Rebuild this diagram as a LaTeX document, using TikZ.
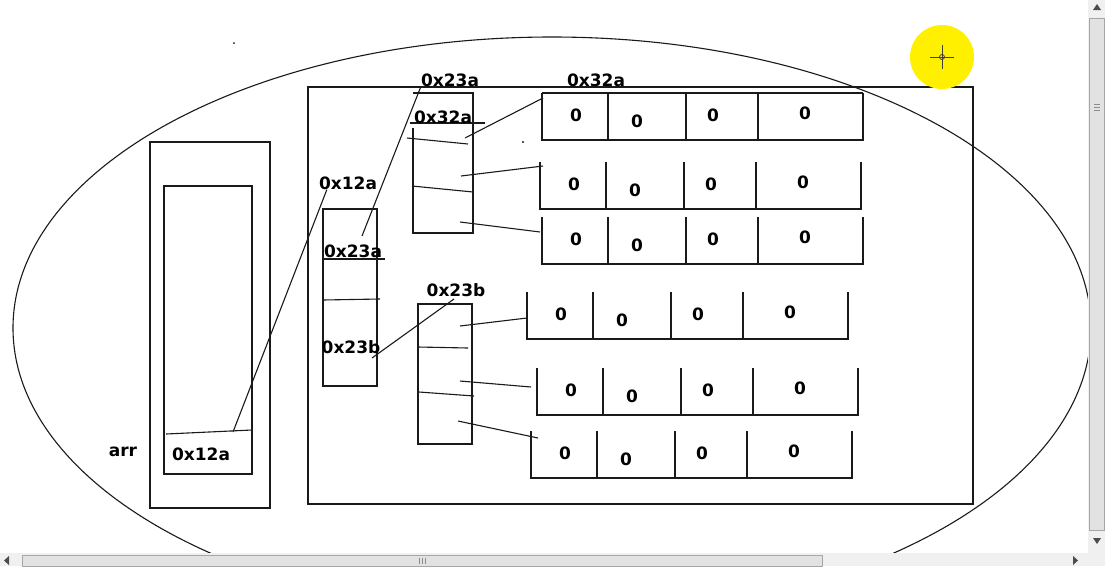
\documentclass[tikz,border=0pt]{standalone}
\usepackage{fontspec}
\setsansfont{DejaVu Sans}
\definecolor{pen}{HTML}{1A1A1A}
\definecolor{marker}{HTML}{FFF000}
\definecolor{barbg}{HTML}{F0F0F0}
\definecolor{barthumb}{HTML}{E2E2E2}
\tikzset{
  memline/.style={line width=1.1pt, pen},
  addr/.style={font=\sffamily\bfseries\fontsize{17}{17}\selectfont, inner sep=0pt},
  scrollbar/.style={fill=barthumb, draw=black!35, line width=0.6pt},
}

\begin{document}
\begin{tikzpicture}[x=1pt, y=-1pt]
    \useasboundingbox (0,0) rectangle (1105,566);
    \fill[white] (0,0) rectangle (1105,566);

    % Memory (ellipse)
    \begin{scope}
        \clip (0,0) rectangle (1088,553);
        \draw[memline] (552,328) ellipse [x radius=539, y radius=291];
    \end{scope}
    \fill[pen] (234,43) circle (1);
    \fill[pen] (523,142) circle (1.1);

    % Stack: arr
    \draw[memline] (150,142) rectangle (270,508);
    \draw[memline] (164,186) rectangle (252,474);
    \draw[memline] (166,434) -- (252,430);
    \node[addr] (arr) at (123,452) {arr};
    \node[addr] (arrval) at (201,454) {0x12a};
    \coordinate (arrptr) at (233,432);

    % Heap
    \draw[memline] (308,87) rectangle (973,504);

    % Second level: block 0x12a
    \draw[memline] (323,209) rectangle (377,386);
    \draw[memline] (323,259) -- (385,259);
    \draw[memline] (323,300) -- (380,299);
    \node[addr] (rowlbl) at (348,183) {0x12a};
    \node[addr] (row0) at (353,251) {0x23a};
    \node[addr] (row1) at (351,347) {0x23b};
    \coordinate (row0ptr) at (362,236);
    \coordinate (row1ptr) at (372,358);

    % Third level: block 0x23a
    \draw[memline] (413,128) -- (413,233) -- (473,233) -- (473,93) -- (413,93);
    \draw[memline] (410,123) -- (485,123);
    \draw[memline] (407,138) -- (468,144);
    \draw[memline] (412,186) -- (473,192);
    \node[addr] (alabel) at (450,80) {0x23a};
    \node[addr] (a0) at (443,117) {0x32a};
    \coordinate (a0ptr) at (465,138);
    \coordinate (a1ptr) at (461,176);
    \coordinate (a2ptr) at (460,222);

    % Third level: block 0x23b
    \draw[memline] (418,304) rectangle (472,444);
    \draw[memline] (418,347) -- (468,348);
    \draw[memline] (419,392) -- (474,396);
    \node[addr] (blabel) at (456,290) {0x23b};
    \coordinate (b0ptr) at (460,326);
    \coordinate (b1ptr) at (460,381);
    \coordinate (b2ptr) at (458,421);

    % Int arrays
    \node[addr] (rlabel) at (596,80) {0x32a};
    \draw[memline] (542,93) -- (863,93);
    \foreach \i/\x/\y/\ex/\ey in {1/542/93/1/5, 2/540/162/3/4, 3/542/217/-2/15,
                                  4/527/292/0/26, 5/537/368/-6/19, 6/531/431/7/7} {
        \draw[memline] (\x,\y) -- (\x,\y+47) -- (\x+321,\y+47) -- (\x+321,\y);
        \foreach \d in {66,144,216}
            \draw[memline] (\x+\d,\y) -- (\x+\d,\y+47);
        \node[addr] (z\i a) at (\x+34,\y+22) {0};
        \node[addr] (z\i b) at (\x+95,\y+28) {0};
        \node[addr] (z\i c) at (\x+171,\y+22) {0};
        \node[addr] (z\i d) at (\x+263,\y+20) {0};
        \coordinate (in\i) at ({\x+\ex},{\y+\ey});
    }

    % Pointers
    \draw[memline] (arrptr) -- ([xshift=8pt]rowlbl.south west);
    \draw[memline] (row0ptr) -- (alabel.south west);
    \draw[memline] (row1ptr) -- ([xshift=-2pt,yshift=-9pt]blabel.center);
    \draw[memline] (a0ptr) -- (in1);
    \draw[memline] (a1ptr) -- (in2);
    \draw[memline] (a2ptr) -- (in3);
    \draw[memline] (b0ptr) -- (in4);
    \draw[memline] (b1ptr) -- (in5);
    \draw[memline] (b2ptr) -- (in6);

    % Cursor highlight
    \fill[marker] (942,57) circle (32);
    \draw[black!75, line width=1pt] (930,57) -- (954,57) (942,45) -- (942,69);
    \draw[black!75, line width=0.8pt] (942,57) circle (2.5);

    % Scrollbars
    \fill[barbg] (1088,0) rectangle (1105,566);
    \fill[barbg] (0,553) rectangle (1105,566);
    \draw[scrollbar] (1089,18) rectangle (1104,530);
    \foreach \g in {104,107,110}
        \draw[black!45, line width=0.7pt] (1094,\g) -- (1100,\g);
    \fill[black!70] (1093,10) -- (1101,10) -- (1097,4) -- cycle;
    \fill[black!70] (1093,538) -- (1101,538) -- (1097,544) -- cycle;
    \draw[scrollbar] (22,555) rectangle (822,566);
    \foreach \g in {419,422,425}
        \draw[black!45, line width=0.7pt] (\g,558) -- (\g,564);
    \fill[black!70] (9,556) -- (9,565) -- (4,560.5) -- cycle;
    \fill[black!70] (1073,556) -- (1073,565) -- (1078,560.5) -- cycle;
\end{tikzpicture}
\end{document}
